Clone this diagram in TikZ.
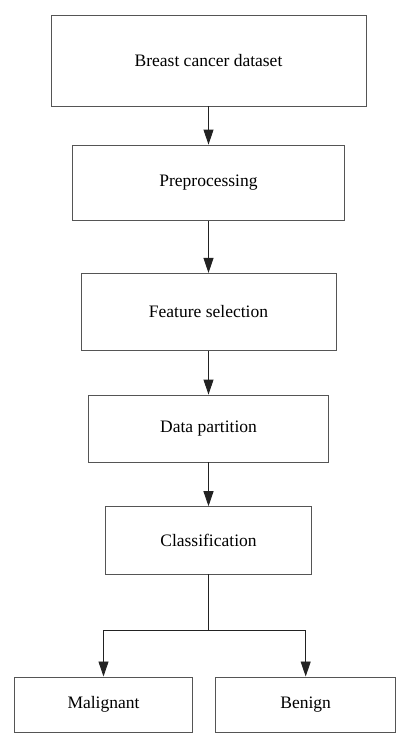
\documentclass[tikz,border=0pt]{standalone}
\usepackage{fontspec}
\setmainfont{Liberation Serif}
\usetikzlibrary{arrows.meta}
\definecolor{boxline}{HTML}{555555}
\definecolor{arrline}{HTML}{222222}
\begin{document}
\begin{tikzpicture}[x=1pt,y=-1pt,
  box/.style={draw=boxline,line width=0.9pt,inner sep=0pt,font=\fontsize{17.5}{20}\selectfont,text=black},
  conn/.style={draw=arrline,line width=0.9pt},
  arr/.style={conn,-{Triangle[length=15pt,width=10pt]}}]
\useasboundingbox (0,0) rectangle (410,748);
\node[box,minimum width=315pt,minimum height=91pt] (b1) at (208.5,60.5) {Breast cancer dataset};
\node[box,minimum width=272pt,minimum height=75.5pt] (b2) at (208.5,182.8) {Preprocessing};
\node[box,minimum width=255pt,minimum height=76.7pt] (b3) at (208.5,311.7) {Feature selection};
\node[box,minimum width=240pt,minimum height=67pt] (b4) at (208.5,428.5) {Data partition};
\node[box,minimum width=206pt,minimum height=67.3pt] (b5) at (208.5,540.3) {Classification};
\node[box,minimum width=177.6pt,minimum height=55.7pt] (b6) at (103.5,704.8) {Malignant};
\node[box,minimum width=180pt,minimum height=55.7pt] (b7) at (305.7,704.8) {Benign};
\coordinate (split) at (208.5,630);
\coordinate (sl) at (103.5,630);
\coordinate (sr) at (305.7,630);
\draw[arr] (b1.south) -- (b2.north);
\draw[arr] (b2.south) -- (b3.north);
\draw[arr] (b3.south) -- (b4.north);
\draw[arr] (b4.south) -- (b5.north);
\draw[conn] (b5.south) -- (split);
\draw[conn] (sl) -- (sr);
\draw[arr] (sl) -- (b6.north);
\draw[arr] (sr) -- (b7.north);
\end{tikzpicture}
\end{document}
